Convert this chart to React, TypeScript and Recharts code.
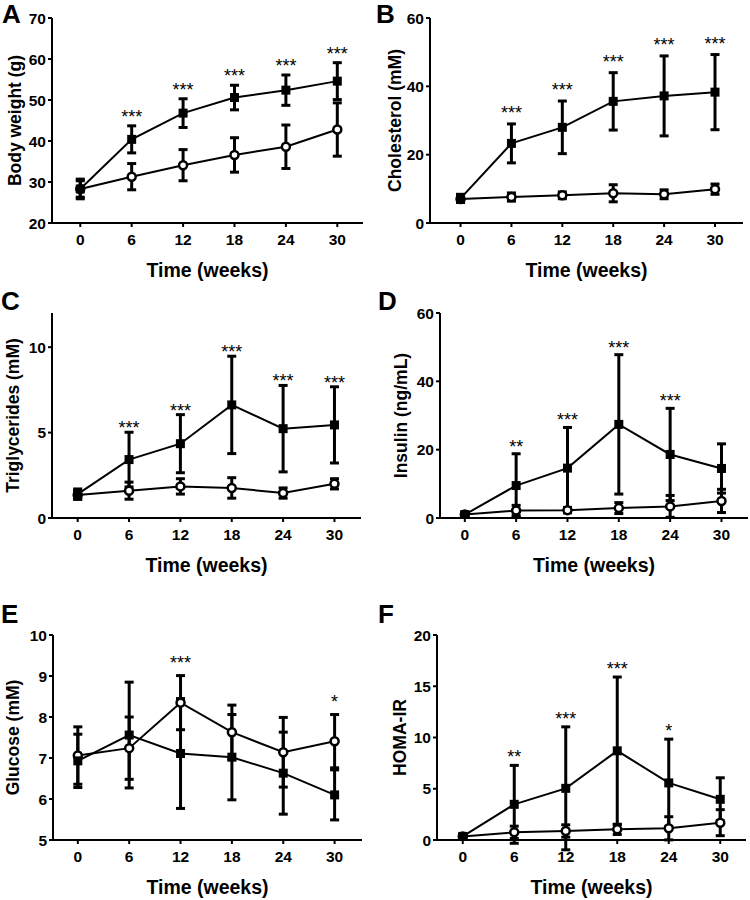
import { LineChart, Line, XAxis, YAxis, ErrorBar, LabelList, Label } from 'recharts'

const FONT = "'Liberation Sans', Arial, Helvetica, sans-serif"

const weeks = [0, 6, 12, 18, 24, 30]

// A - body weight (g)
const weightHfd = [28.3, 40.4, 46.8, 50.6, 52.4, 54.6]
const weightHfdSd = [2.4, 3.3, 3.5, 3.0, 3.7, 4.5]
const weightCtl = [28.3, 31.3, 34.1, 36.6, 38.6, 42.8]
const weightCtlSd = [2.0, 3.2, 3.8, 4.2, 5.3, 6.5]
const weightSig = ['', '***', '***', '***', '***', '***']

// B - cholesterol (mM)
const cholHfd = [7.2, 23.3, 28.0, 35.6, 37.2, 38.3]
const cholHfdSd = [1.2, 5.7, 7.7, 8.4, 11.7, 11.0]
const cholCtl = [7.0, 7.6, 8.1, 8.7, 8.4, 9.9]
const cholCtlSd = [1.0, 1.2, 1.0, 2.5, 1.3, 1.5]
const cholSig = ['', '***', '***', '***', '***', '***']

// C - triglycerides (mM)
const tgHfd = [1.4, 3.42, 4.35, 6.62, 5.23, 5.45]
const tgHfdSd = [0.3, 1.6, 1.7, 2.85, 2.53, 2.23]
const tgCtl = [1.35, 1.6, 1.85, 1.76, 1.46, 2.0]
const tgCtlSd = [0.25, 0.5, 0.45, 0.6, 0.3, 0.3]
const tgSig = ['', '***', '***', '***', '***', '***']

// D - insulin (ng/mL)
const insHfd = [1.0, 9.5, 14.6, 27.4, 18.6, 14.5]
const insHfdSd = [0.5, 9.3, 11.9, 20.4, 13.5, 7.2]
const insCtl = [1.0, 2.2, 2.3, 2.9, 3.4, 5.0]
const insCtlSd = [0.4, 1.5, 0.8, 1.6, 3.2, 3.4]
const insSig = ['', '**', '***', '***', '***', '']

// E - glucose (mM)
const gluHfd = [6.93, 7.56, 7.11, 7.02, 6.63, 6.1]
const gluHfdSd = [0.65, 1.29, 1.34, 1.04, 1.0, 0.61]
const gluCtl = [7.06, 7.24, 8.35, 7.63, 7.14, 7.41]
const gluCtlSd = [0.7, 0.76, 0.66, 0.66, 0.85, 0.65]
const gluSig = ['', '', '***', '', '', '*']

// F - HOMA-IR
const homaHfd = [0.35, 3.48, 5.04, 8.7, 5.57, 3.97]
const homaHfdSd = [0.2, 3.8, 6.0, 7.2, 4.27, 2.1]
const homaCtl = [0.35, 0.75, 0.88, 1.04, 1.14, 1.69]
const homaCtlSd = [0.15, 0.6, 0.6, 0.5, 1.13, 1.27]
const homaSig = ['', '**', '***', '***', '*', '']

const panels = [
  { letter: 'A', yLabel: 'Body weight (g)', hfd: weightHfd, hfdSd: weightHfdSd, ctl: weightCtl, ctlSd: weightCtlSd, sig: weightSig,
    yDomain: [20, 70], yTicks: [20, 30, 40, 50, 60, 70], left: 0, top: 0, plotLeft: 52, plotTop: 18, plotBottom: 223, plotRight: 363, xDomain: [-3.3, 33], yGap: 37, starGap: 13, letterX: 2, letterY: 23 },
  { letter: 'B', yLabel: 'Cholesterol (mM)', hfd: cholHfd, hfdSd: cholHfdSd, ctl: cholCtl, ctlSd: cholCtlSd, sig: cholSig,
    yDomain: [0, 60], yTicks: [0, 20, 40, 60], left: 375, top: 0, plotLeft: 55, plotTop: 18, plotBottom: 223, plotRight: 368, xDomain: [-3.6, 33.3], yGap: 35, starGap: 15, letterX: 376, letterY: 23 },
  { letter: 'C', yLabel: 'Triglycerides (mM)', hfd: tgHfd, hfdSd: tgHfdSd, ctl: tgCtl, ctlSd: tgCtlSd, sig: tgSig,
    yDomain: [0, 12], yTicks: [0, 5, 10], left: 0, top: 300, plotLeft: 52, plotTop: 13, plotBottom: 218, plotRight: 361, xDomain: [-3, 33.1], yGap: 39, starGap: 8, letterX: 1, letterY: 310 },
  { letter: 'D', yLabel: 'Insulin (ng/mL)', hfd: insHfd, hfdSd: insHfdSd, ctl: insCtl, ctlSd: insCtlSd, sig: insSig,
    yDomain: [0, 60], yTicks: [0, 20, 40, 60], left: 375, top: 300, plotLeft: 65, plotTop: 13, plotBottom: 218, plotRight: 373, xDomain: [-2.9, 33.1], yGap: 39, starGap: 11, letterX: 378, letterY: 310 },
  { letter: 'E', yLabel: 'Glucose (mM)', hfd: gluHfd, hfdSd: gluHfdSd, ctl: gluCtl, ctlSd: gluCtlSd, sig: gluSig,
    yDomain: [5, 10], yTicks: [5, 6, 7, 8, 9, 10], left: 0, top: 600, plotLeft: 53, plotTop: 35, plotBottom: 240, plotRight: 362, xDomain: [-2.9, 33.2], yGap: 40, starGap: 17, letterX: 1, letterY: 623 },
  { letter: 'F', yLabel: 'HOMA-IR', hfd: homaHfd, hfdSd: homaHfdSd, ctl: homaCtl, ctlSd: homaCtlSd, sig: homaSig,
    yDomain: [0, 20], yTicks: [0, 5, 10, 15, 20], left: 375, top: 600, plotLeft: 62, plotTop: 35, plotBottom: 240, plotRight: 371, xDomain: [-3, 33], yGap: 37, starGap: 12, letterX: 378, letterY: 623 },
]

const tickStyle = { fill: '#000', fontSize: 15.5, fontWeight: 700, fontFamily: FONT }

const SquareDot = (props: any) => {
  const { cx, cy, index } = props
  if (cx == null || cy == null) return null
  return <rect key={`sq-${index}`} x={cx - 4.5} y={cy - 4.5} width={9} height={9} fill="#000" />
}

function Panel({ p }: { p: any }) {
  const rows = weeks.map((week, i) => ({
    week,
    hfd: p.hfd[i],
    hfdSd: p.hfdSd[i],
    ctl: p.ctl[i],
    ctlSd: p.ctlSd[i],
    sig: p.sig[i],
    sigPos: Math.max(p.hfd[i] + p.hfdSd[i], p.ctl[i] + p.ctlSd[i]),
  }))

  const xTitle = (props: any) => {
    const { x, y, width } = props.viewBox
    return (
      <text x={x + width / 2} y={y + 54} textAnchor="middle" fontSize={19.5} fontWeight={700} fontFamily={FONT} fill="#000">
        Time (weeks)
      </text>
    )
  }

  const yTitle = (props: any) => {
    const { x, y, width, height } = props.viewBox
    const cx = x + width - p.yGap
    const cy = y + height / 2
    return (
      <text transform={`translate(${cx},${cy}) rotate(-90)`} x={0} y={6} textAnchor="middle" fontSize={17.5} fontWeight={700} fontFamily={FONT} fill="#000">
        {p.yLabel}
      </text>
    )
  }

  const star = (props: any) => {
    const { x, y, value } = props
    if (!value) return null
    return (
      <text x={x} y={y - p.starGap + 10} textAnchor="middle" fontSize={18} fontFamily={FONT} fill="#000">
        {value}
      </text>
    )
  }

  return (
    <div style={{ position: 'absolute', left: p.left, top: p.top }}>
      <LineChart width={375} height={300} data={rows} margin={{ top: p.plotTop, right: 375 - p.plotRight, bottom: 0, left: 0 }}>
        <XAxis
          type="number"
          dataKey="week"
          domain={p.xDomain}
          ticks={weeks}
          interval={0}
          allowDataOverflow
          height={300 - p.plotBottom}
          tickSize={4}
          tickMargin={7}
          stroke="#000"
          axisLine={{ stroke: '#000', strokeWidth: 2 }}
          tickLine={{ stroke: '#000', strokeWidth: 2 }}
          tick={tickStyle}
        >
          <Label content={xTitle} />
        </XAxis>
        <YAxis
          type="number"
          domain={p.yDomain}
          ticks={p.yTicks}
          interval={0}
          allowDataOverflow
          width={p.plotLeft}
          tickSize={4}
          tickMargin={2}
          stroke="#000"
          axisLine={{ stroke: '#000', strokeWidth: 2 }}
          tickLine={{ stroke: '#000', strokeWidth: 2 }}
          tick={tickStyle}
        >
          <Label content={yTitle} />
        </YAxis>
        <Line
          type="linear"
          dataKey="ctl"
          stroke="#000"
          strokeWidth={2}
          dot={{ r: 4, fill: '#fff', stroke: '#000', strokeWidth: 2.5 }}
          activeDot={false}
          isAnimationActive={false}
        >
          <ErrorBar dataKey="ctlSd" direction="y" width={4.5} strokeWidth={3} stroke="#000" />
        </Line>
        <Line
          type="linear"
          dataKey="hfd"
          stroke="#000"
          strokeWidth={2}
          dot={SquareDot}
          activeDot={false}
          isAnimationActive={false}
        >
          <ErrorBar dataKey="hfdSd" direction="y" width={4.5} strokeWidth={3} stroke="#000" />
        </Line>
        <Line dataKey="sigPos" stroke="none" dot={false} activeDot={false} isAnimationActive={false}>
          <LabelList dataKey="sig" content={star} />
        </Line>
      </LineChart>
    </div>
  )
}

export default function App() {
  return (
    <div style={{ position: 'absolute', left: 0, top: 0, width: 750, height: 900, background: '#fff' }}>
      {panels.map(p => (
        <Panel key={p.letter} p={p} />
      ))}
      <svg width={750} height={900} style={{ position: 'absolute', left: 0, top: 0, pointerEvents: 'none' }}>
        {panels.map(p => (
          <text key={p.letter} x={p.letterX} y={p.letterY} fontSize={26} fontWeight={700} fontFamily={FONT} fill="#000">
            {p.letter}
          </text>
        ))}
      </svg>
    </div>
  )
}
